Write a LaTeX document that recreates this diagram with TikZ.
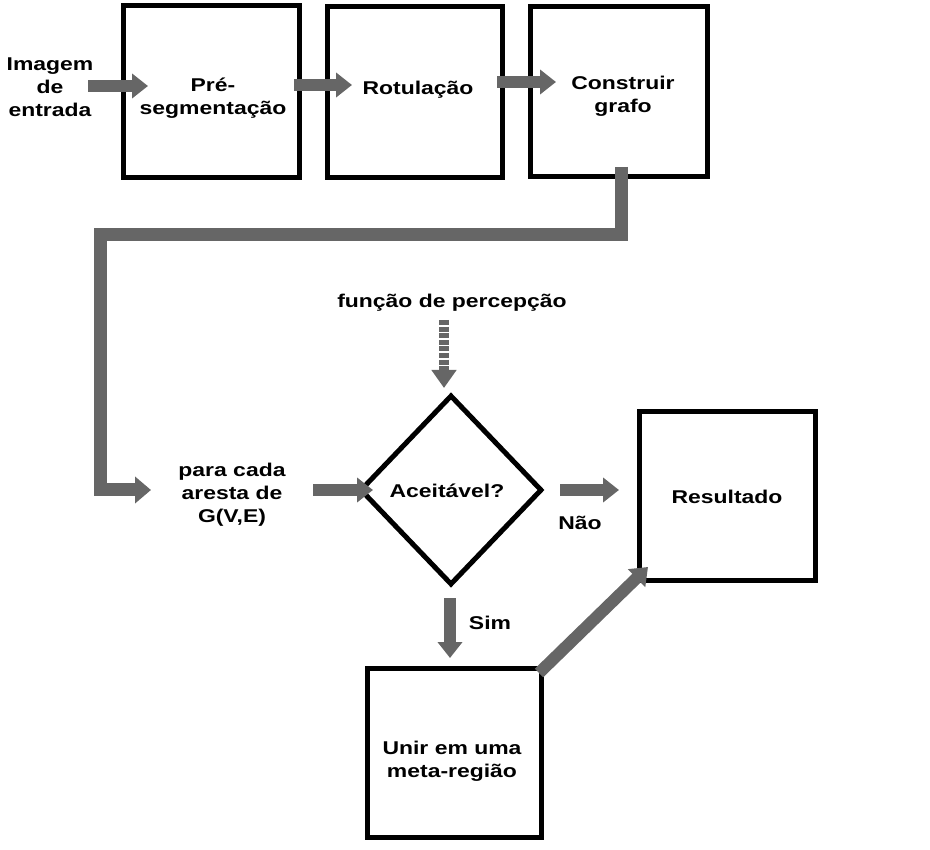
\documentclass[tikz,border=0pt]{standalone}
\usepackage{fontspec}
\setmainfont{Liberation Sans}[FakeStretch=1.24]
\usetikzlibrary{arrows.meta,shapes.geometric}
\begin{document}
\begin{tikzpicture}[x=1pt,y=-1pt,
  every node/.style={font=\fontsize{18.5}{23}\selectfont\bfseries, inner sep=0pt, align=center},
  box/.style={draw=black, line width=5pt, fill=white},
  flow/.style={draw=black!60, line width=12pt,
     -{Triangle[length=16pt,width=24pt]}},
  elbow/.style={draw=black!60, line width=13pt, line cap=butt,
     -{Triangle[length=16pt,width=26pt]}},
  dflow/.style={draw=black!60, line width=10pt, dash pattern=on 5pt off 1.6pt,
     -{Triangle[length=18pt,width=24pt]}},
]
\useasboundingbox (0,0) rectangle (930,850);

% boxes
\node[box, minimum width=176pt, minimum height=172pt] (b1) at (211,92) {};
\node[box, minimum width=175pt, minimum height=171pt] (b2) at (415,92) {};
\node[box, minimum width=177pt, minimum height=170pt] (b3) at (619,92) {};
\node[box, minimum width=176pt, minimum height=169pt] (res) at (727,496) {};
\node[box, minimum width=174pt, minimum height=169pt] (uni) at (454,753) {};
\node[draw=black, line width=5pt, fill=white, shape=diamond, aspect=0.96,
      minimum width=182pt, minimum height=190pt] (dia) at (451,490) {};

% texts
\node (inp) at (50,87) {Imagem\\de\\entrada};
\node (t1) at (213,98) {Pré-\\segmentação};
\node (t2) at (418,90) {Rotulação};
\node (t3) at (623,96) {Construir\\grafo};
\node (para) at (232,495) {para cada\\aresta de\\G(V,E)};
\node (acc) at (447,491) {Aceitável?};
\node (fp) at (452,303) {função de percepção};
\node (nao) at (580,523) {Não};
\node (sim) at (490,623) {Sim};
\node (tres) at (727,497) {Resultado};
\node (tuni) at (452,761) {Unir em uma\\meta-região};

% connector end points
\coordinate (a1s) at (88,86);   \coordinate (a1e) at (148,86);
\coordinate (a2s) at (294,85);  \coordinate (a2e) at (352,85);
\coordinate (a3s) at (497,82);  \coordinate (a3e) at (556,82);
\coordinate (e0) at (621,167);
\coordinate (e1) at (100,235);
\coordinate (e2) at (151,490);
\coordinate (a4s) at (313,490); \coordinate (a4e) at (373,490);
\coordinate (a5s) at (560,490); \coordinate (a5e) at (619,490);
\coordinate (a6s) at (450,598); \coordinate (a6e) at (450,658);
\coordinate (a7s) at (539,673); \coordinate (a7e) at (648,567);
\coordinate (dfs) at (444,320); \coordinate (dfe) at (444,388);

% arrows
\draw[flow] (a1s) -- (a1e);
\draw[flow] (a2s) -- (a2e);
\draw[flow] (a3s) -- (a3e);
\draw[elbow] (e0) |- (e1) |- (e2);
\draw[flow] (a4s) -- (a4e);
\draw[flow] (a5s) -- (a5e);
\draw[flow] (a6s) -- (a6e);
\draw[flow] (a7s) -- (a7e);
\draw[dflow] (dfs) -- (dfe);
\end{tikzpicture}
\end{document}
